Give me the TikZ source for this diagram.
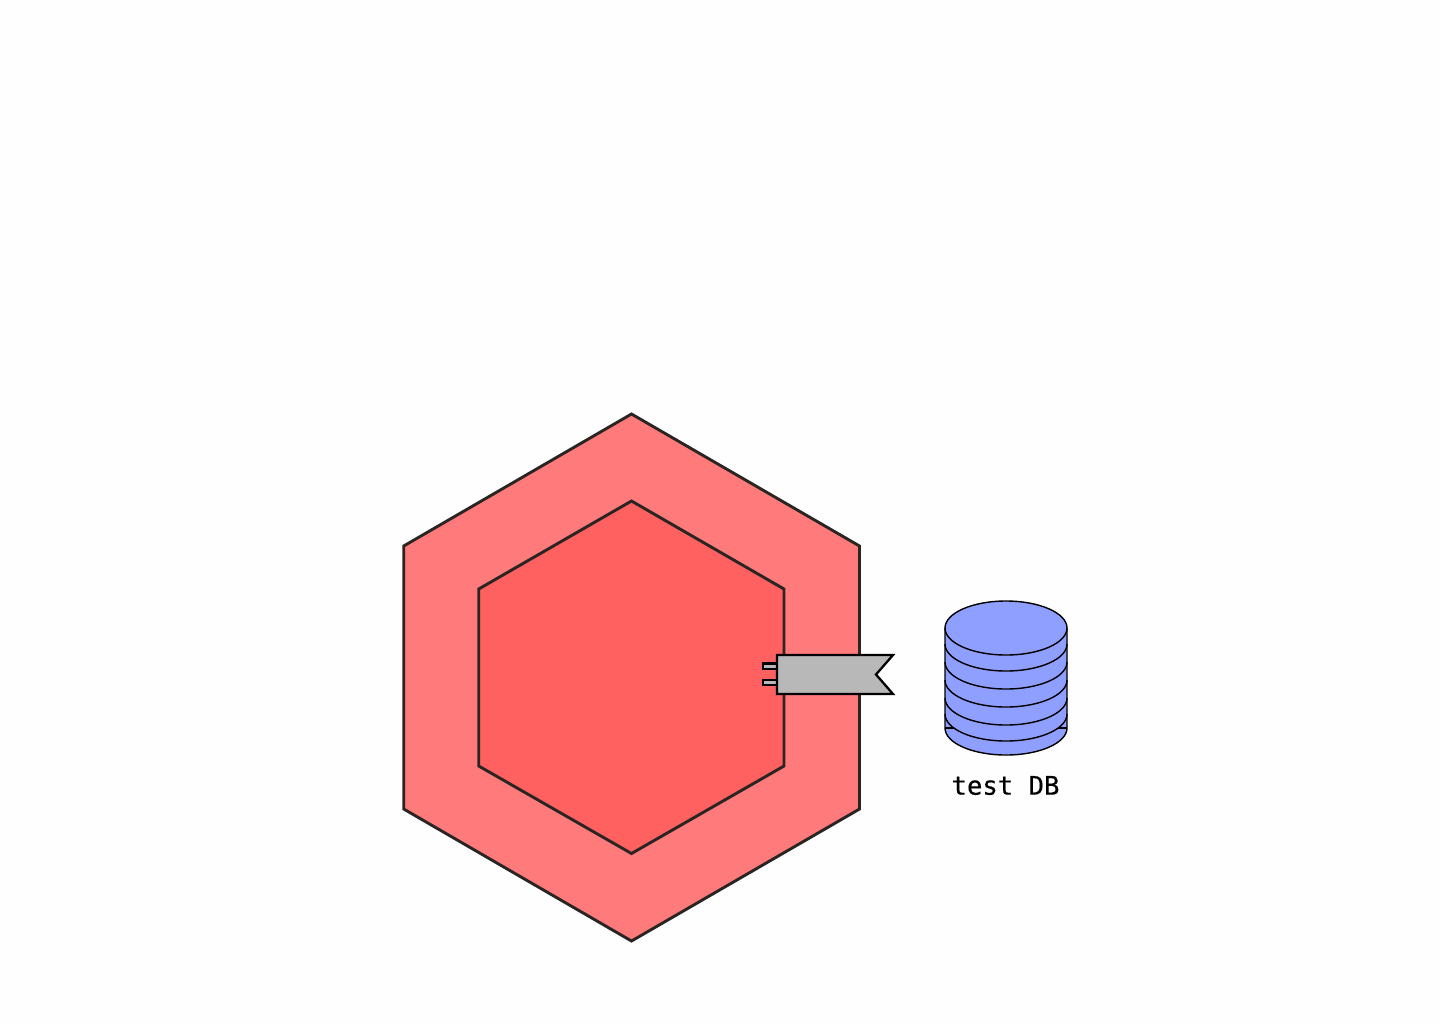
\documentclass[tikz,border=0pt]{standalone}
\usepackage{fontspec}
\setmonofont[FakeBold=0.35]{DejaVu Sans Mono}
\definecolor{bgc}{HTML}{FEFEFE}
\definecolor{outerc}{HTML}{FF7A7A}
\definecolor{innerc}{HTML}{FF6060}
\definecolor{edgec}{HTML}{2A2522}
\definecolor{grayc}{HTML}{B8B8B8}
\definecolor{dbc}{HTML}{8F9FFF}
\tikzset{
  hexa/.style={draw=edgec,line width=1.45pt,line join=miter},
  port/.style={draw=black,line width=1.15pt,fill=grayc,line join=miter},
  dbline/.style={draw=black,line width=0.7pt},
  dblabel/.style={font=\ttfamily\fontsize{12.8}{15}\selectfont,text=black,inner sep=0pt,anchor=center}
}
\begin{document}
\begin{tikzpicture}[x=0.5pt,y=-0.5pt]
\useasboundingbox (0,0) rectangle (1440,1024);
\fill[bgc] (0,0) rectangle (1440,1024);
% hexagons
\draw[hexa,fill=outerc] (631.5,414) -- (859.5,546) -- (859.5,809) -- (631.5,941) -- (403.7,809) -- (403.7,546) -- cycle;
\draw[hexa,fill=innerc] (631.5,501) -- (784,589) -- (784,766) -- (631.5,853.5) -- (478.7,766) -- (478.7,589) -- cycle;
% port
\draw[port] (777,663.5) -- (762.7,663.5) -- (762.7,669) -- (777,669) -- cycle;
\draw[port] (777,680) -- (762.7,680) -- (762.7,685) -- (777,685) -- cycle;
\draw[port] (777,655) -- (893,655) -- (876,674.5) -- (893,694) -- (777,694) -- cycle;
% database
\fill[dbc] (945,628) arc[start angle=180,end angle=360,x radius=61,y radius=-27] -- (1067,728) arc[start angle=0,end angle=-180,x radius=61,y radius=-27] -- cycle;
\foreach \c in {644,662,680,698,714}{
  \draw[dbline] (945,\c) arc[start angle=180,end angle=360,x radius=61,y radius=-27];
}
\draw[dbline] (945,728) -- (954,728);
\draw[dbline] (1067,728) -- (1058,728);
\draw[dbline,fill=dbc] (945,628) arc[start angle=180,end angle=-180,x radius=61,y radius=-27] -- cycle;
\draw[dbline] (945,628) -- (945,728) arc[start angle=180,end angle=360,x radius=61,y radius=-27] -- (1067,628);
\node[dblabel] (dbname) at (1005.5,785.5) {test DB};
\end{tikzpicture}
\end{document}
